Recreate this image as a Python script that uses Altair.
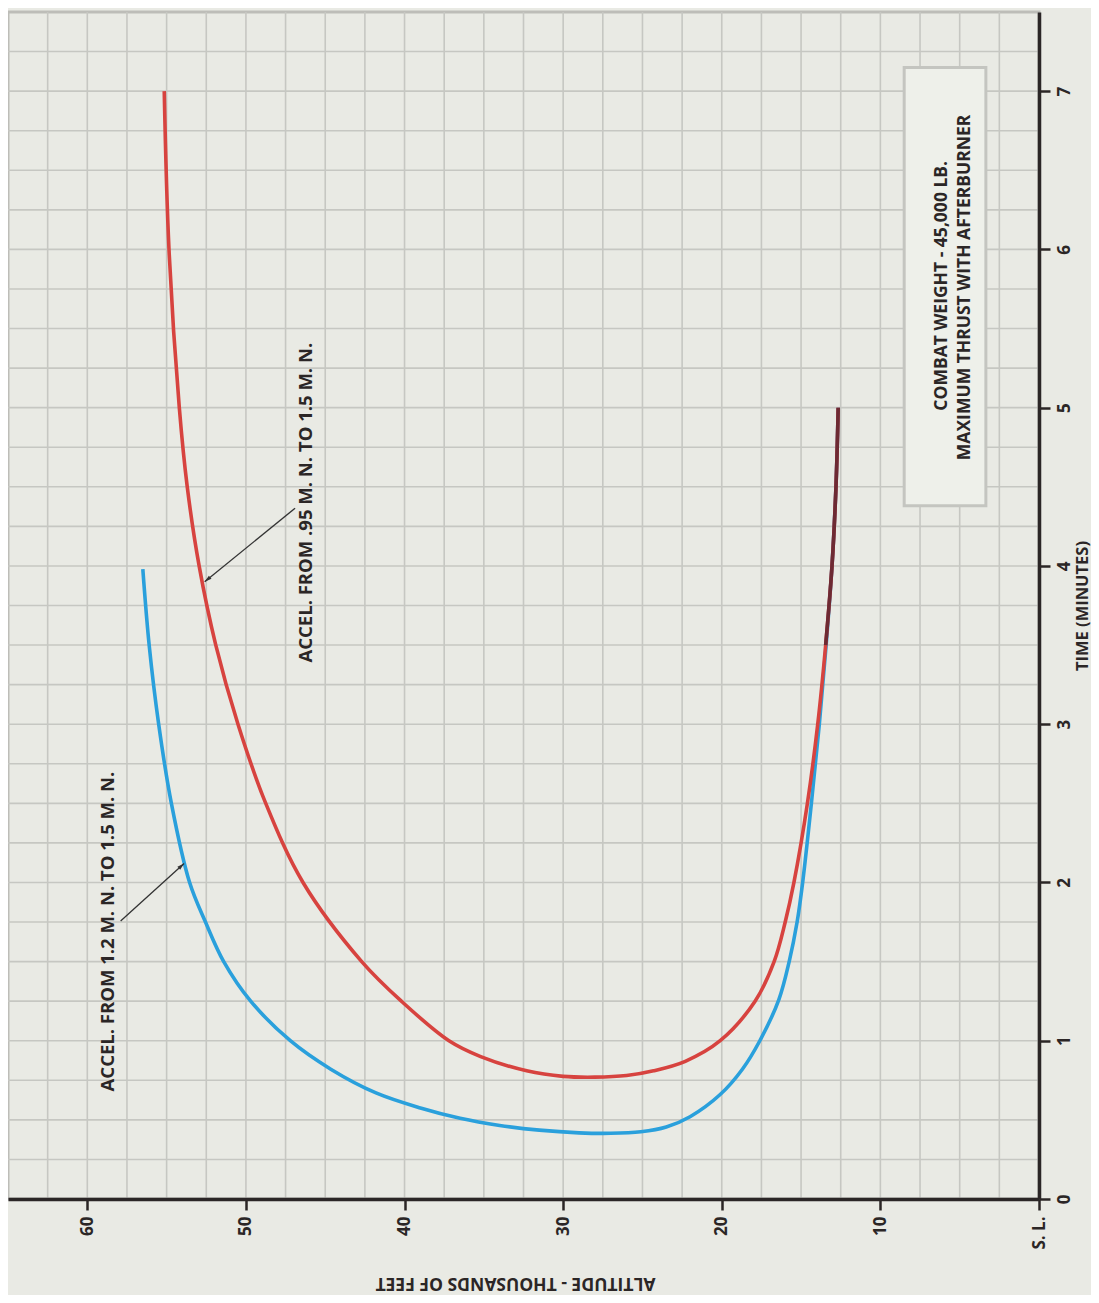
import altair as alt
import pandas as pd

# ---- data ----
red_alt = [55.15, 54.85, 54.2, 53.7, 52.95, 51.9, 50.5, 48.75, 46.4, 42.7, 40.2, 37.2, 35.2, 32.3,
           30.0, 28.0, 26.0, 24.3, 22.3, 20.1, 17.9, 16.7, 16.0, 15.45, 14.6, 13.95, 13.45, 13.05,
           12.8, 12.66]
red_t = [7.0, 6.0, 5.0, 4.5, 4.0, 3.5, 3.0, 2.5, 2.0, 1.5, 1.25, 1.0, 0.9, 0.81,
         0.775, 0.77, 0.78, 0.81, 0.87, 1.0, 1.25, 1.5, 1.75, 2.0, 2.5, 3.0, 3.5, 4.0,
         4.5, 5.0]

blue_alt = [56.5, 56.1, 55.5, 54.7, 53.55, 52.55, 51.4, 49.7, 47.2, 44.65, 41.8, 39.0, 36.5, 34.0,
            31.5, 29.0, 27.0, 25.1, 23.5, 22.0, 20.1, 18.7, 17.6, 16.4, 15.75, 15.25, 14.9, 14.35,
            13.85, 13.42, 13.05, 12.8, 12.66]
blue_t = [3.98, 3.5, 3.0, 2.5, 2.0, 1.75, 1.5, 1.25, 1.0, 0.82, 0.67, 0.575, 0.51, 0.465,
          0.435, 0.418, 0.415, 0.425, 0.455, 0.52, 0.66, 0.82, 1.0, 1.26, 1.5, 1.75, 2.0, 2.5,
          3.0, 3.5, 4.0, 4.5, 5.0]

x_ticks = [0, 10, 20, 30, 40, 50, 60]
y_ticks = [0, 1, 2, 3, 4, 5, 6, 7]
grid_alt = [2.5 * k for k in range(1, 26)]
grid_t = [0.25 * k for k in range(1, 30)]

label_red = "ACCEL. FROM .95 M. N. TO 1.5 M. N."
label_blue = "ACCEL. FROM 1.2 M. N. TO 1.5 M. N."
box_line1 = "COMBAT WEIGHT - 45,000 LB."
box_line2 = "MAXIMUM THRUST WITH AFTERBURNER"

# annotation anchors (altitude, time)
text_alt = [46.2, 58.7]
text_t = [4.40, 1.69]
text_lbl = [label_red, label_blue]
arrow_alt = [46.9, 57.9]
arrow_t = [4.365, 1.756]
arrow_alt2 = [52.6, 53.9]
arrow_t2 = [3.90, 2.12]
arrow_ang = [230.6, 47.8]
box_alt = [8.5]
box_alt2 = [3.35]
box_t = [4.38]
box_t2 = [7.15]
box_text_alt = [6.1, 4.65]
box_text_t = [5.77, 5.76]
box_text = [box_line1, box_line2]

FONT = "Open Sans"
INK = "#2b2626"
W, H = 1031, 1187

xscale = alt.Scale(domain=[0, 65], reverse=True, nice=False, zero=False)
yscale = alt.Scale(domain=[0, 7.5], nice=False, zero=False)

xaxis = alt.Axis(
    values=x_ticks, labelExpr="datum.value == 0 ? 'S. L.' : datum.label",
    labelAngle=270, labelAlign="right", labelBaseline="middle", labelPadding=6,
    labelFont=FONT, labelFontSize=17, labelFontWeight="bold", labelColor=INK,
    labelFlush=False, labelOverlap=False,
    tickSize=11, tickWidth=2.5, tickColor=INK, domainColor=INK, domainWidth=3.5,
    grid=False, zindex=1,
    title="ALTITUDE - THOUSANDS OF FEET", titleAngle=180, titleX=507, titleY=83,
    titleAlign="center", titleBaseline="middle", titleFont=FONT, titleFontSize=17.5,
    titleFontWeight="bold", titleColor=INK,
)
yaxis = alt.Axis(
    orient="right", values=y_ticks,
    labelAngle=270, labelAlign="center", labelBaseline="top", labelPadding=6,
    labelFont=FONT, labelFontSize=17, labelFontWeight="bold", labelColor=INK,
    labelFlush=False, labelOverlap=False,
    tickSize=11, tickWidth=2.5, tickColor=INK, domainColor=INK, domainWidth=3.5,
    grid=False, zindex=1,
    title="TIME (MINUTES)", titleAngle=270, titleX=43, titleY=H / 2,
    titleAlign="center", titleBaseline="middle", titleFont=FONT, titleFontSize=16.5,
    titleFontWeight="bold", titleColor=INK,
)


def X(f="alt"):
    return alt.X(f"{f}:Q", scale=xscale, axis=xaxis)


def Y(f="t"):
    return alt.Y(f"{f}:Q", scale=yscale, axis=yaxis)


red_df = pd.DataFrame({"alt": red_alt, "t": red_t, "i": range(len(red_alt))})
blue_df = pd.DataFrame({"alt": blue_alt, "t": blue_t, "i": range(len(blue_alt))})
overlap_df = red_df[(red_df["alt"] < 20) & (red_df["t"] >= 3.45)]

vgrid = alt.Chart(pd.DataFrame({"alt": grid_alt})).mark_rule(
    color="#c6c7c2", strokeWidth=1.6).encode(x=X())
hgrid = alt.Chart(pd.DataFrame({"t": grid_t})).mark_rule(
    color="#c6c7c2", strokeWidth=1.6).encode(y=Y())

box = alt.Chart(pd.DataFrame({"alt": box_alt, "alt2": box_alt2, "t": box_t, "t2": box_t2})).mark_rect(
    fill="#eef0ea", stroke="#c4c5c0", strokeWidth=3).encode(
    x=X(), x2="alt2:Q", y=Y(), y2="t2:Q")

box_txt = alt.Chart(pd.DataFrame({"alt": box_text_alt, "t": box_text_t, "txt": box_text})).mark_text(
    angle=270, font=FONT, fontSize=17.5, fontWeight="bold", color=INK, align="center",
    baseline="middle").encode(x=X(), y=Y(), text="txt:N")

line_kw = dict(strokeWidth=3.6, interpolate="catmull-rom", strokeCap="butt")
blue_line = alt.Chart(blue_df).mark_line(color="#2aa0dc", **line_kw).encode(
    x=X(), y=Y(), order="i:Q")
red_line = alt.Chart(red_df).mark_line(color="#d7433f", **line_kw).encode(
    x=X(), y=Y(), order="i:Q")
over_line = alt.Chart(overlap_df).mark_line(color="#6d2a33", **line_kw).encode(
    x=X(), y=Y(), order="i:Q")

arrows_df = pd.DataFrame({"alt": arrow_alt, "t": arrow_t, "alt2": arrow_alt2, "t2": arrow_t2,
                          "ang": arrow_ang})
arrow_lines = alt.Chart(arrows_df).mark_rule(color="#333333", strokeWidth=1.3).encode(
    x=X(), y=Y(), x2="alt2:Q", y2="t2:Q")
heads_df = pd.DataFrame({"alt": arrow_alt2, "t": arrow_t2, "ang": arrow_ang})
arrow_heads = alt.Chart(heads_df).mark_point(
    shape="M0,0L-0.5,1.7L0.5,1.7Z", filled=True, color="#333333", size=70, opacity=1).encode(
    x=X(), y=Y(), angle=alt.Angle("ang:Q", scale=None))

labels = alt.Chart(pd.DataFrame({"alt": text_alt, "t": text_t, "txt": text_lbl})).mark_text(
    angle=270, font=FONT, fontSize=18.5, fontWeight="bold", color=INK, align="center",
    baseline="middle").encode(x=X(), y=Y(), text="txt:N")

chart = alt.layer(
    vgrid, hgrid, box, box_txt, blue_line, red_line, over_line, arrow_lines, arrow_heads, labels
).properties(
    width=W, height=H, background="#e9eae4",
    autosize=alt.AutoSizeParams(type="none"),
    padding={"left": 0, "top": 4, "right": 52, "bottom": 96},
).configure_view(stroke="#bdbdb8", strokeWidth=3)

chart.save("out.html", embed_options={"renderer": "svg", "actions": False})
